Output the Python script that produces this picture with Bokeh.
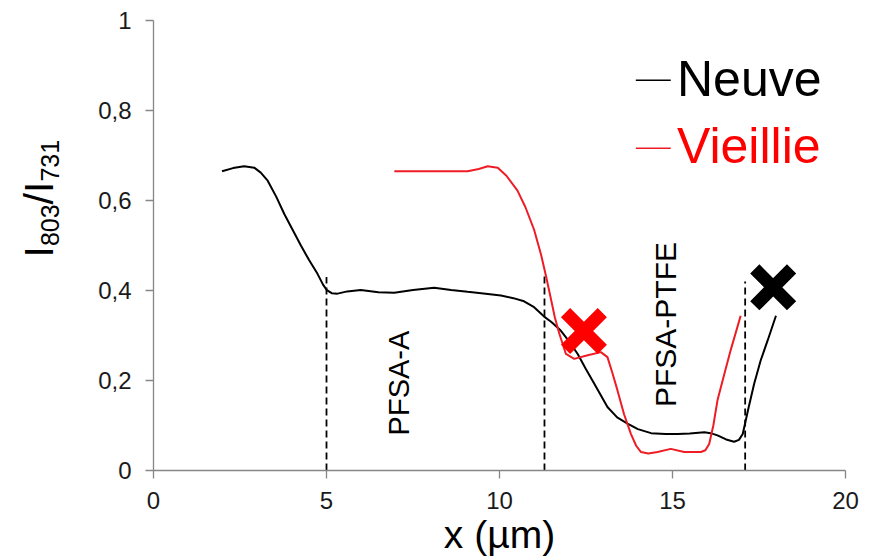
import math
from bokeh.plotting import figure
from bokeh.layouts import row
from bokeh.models import Range1d, Label, CustomJSTickFormatter, FixedTicker
from bokeh.embed import file_html
from bokeh.resources import INLINE

# ---- data ----
neuve_x = [1.98, 2.3, 2.62, 2.91, 3.1, 3.30, 3.55, 3.78, 4.02, 4.26, 4.50, 4.74, 4.9, 5.01,
           5.15, 5.32, 5.6, 5.99, 6.5, 6.96, 7.5, 8.11, 8.6, 9.08, 9.6, 10.04, 10.4, 10.71,
           11.0, 11.29, 11.5, 11.77, 12.0, 12.26, 12.5, 12.74, 13.12, 13.4, 13.70, 14.0,
           14.38, 14.8, 15.15, 15.5, 15.92, 16.1, 16.30, 16.55, 16.78, 16.92, 17.03, 17.2,
           17.36, 17.55, 17.75, 17.99]
neuve_y = [0.665, 0.672, 0.676, 0.673, 0.662, 0.644, 0.608, 0.570, 0.535, 0.500, 0.467, 0.437,
           0.413, 0.401, 0.394, 0.393, 0.398, 0.401, 0.396, 0.395, 0.401, 0.406, 0.401, 0.397,
           0.393, 0.389, 0.383, 0.376, 0.363, 0.342, 0.330, 0.311, 0.288, 0.259, 0.225, 0.193,
           0.141, 0.118, 0.104, 0.092, 0.083, 0.081, 0.081, 0.082, 0.085, 0.083, 0.078, 0.069,
           0.064, 0.068, 0.081, 0.140, 0.193, 0.245, 0.289, 0.344]

vieillie_x = [6.96, 8.0, 9.08, 9.4, 9.66, 9.95, 10.2, 10.52, 10.75, 11.0, 11.2, 11.35, 11.49,
              11.6, 11.73, 11.92, 12.16, 12.55, 12.93, 13.12, 13.25, 13.41, 13.6, 13.80, 13.95,
              14.09, 14.3, 14.57, 14.95, 15.34, 15.82, 15.95, 16.06, 16.18, 16.30, 16.5, 16.68,
              16.97]
vieillie_y = [0.665, 0.665, 0.665, 0.670, 0.676, 0.673, 0.655, 0.622, 0.585, 0.535, 0.480, 0.430,
              0.380, 0.340, 0.304, 0.259, 0.248, 0.256, 0.263, 0.252, 0.220, 0.178, 0.125, 0.081,
              0.055, 0.041, 0.038, 0.041, 0.048, 0.041, 0.041, 0.045, 0.059, 0.100, 0.156, 0.215,
              0.267, 0.344]

boundary_x = [5.0, 11.3, 17.1]
boundary_top = [0.43, 0.433, 0.42]

cross_neuve = (17.91, 0.407)
cross_vieillie = (12.44, 0.31)

x_ticks = [0, 5, 10, 15, 20]
y_ticks = [0, 0.2, 0.4, 0.6, 0.8, 1]

FONT = "Liberation Sans"
AXIS_GRAY = "#868686"
RED = "#ff0000"
H = 558
YLAB_W = 95
TOP, BOTTOM = 20, 88

p = figure(width=866 - YLAB_W, height=H, x_range=Range1d(0, 20), y_range=Range1d(0, 1),
           output_backend="svg", toolbar_location=None,
           min_border_left=153 - YLAB_W, min_border_right=21,
           min_border_top=TOP, min_border_bottom=BOTTOM)
p.grid.visible = False
p.outline_line_color = None

p.xaxis.ticker = FixedTicker(ticks=x_ticks)
p.yaxis.ticker = FixedTicker(ticks=y_ticks)
p.yaxis.formatter = CustomJSTickFormatter(
    code="return (tick == 0 || tick == 1) ? tick.toFixed(0) : tick.toFixed(1).replace('.', ',');")
for ax in (p.xaxis, p.yaxis):
    ax.axis_line_color = AXIS_GRAY
    ax.axis_line_width = 1.3
    ax.major_tick_line_color = AXIS_GRAY
    ax.major_tick_line_width = 1.3
    ax.major_tick_out = 8
    ax.major_tick_in = 0
    ax.minor_tick_out = 0
    ax.minor_tick_in = 0
    ax.major_label_text_font = FONT
    ax.major_label_text_font_size = "24px"
    ax.major_label_text_color = "#1a1a1a"
p.yaxis.major_label_standoff = 14
p.xaxis.major_label_standoff = 13

p.xaxis.axis_label = "x (µm)"
p.xaxis.axis_label_text_font = FONT
p.xaxis.axis_label_text_font_size = "39px"
p.xaxis.axis_label_text_font_style = "normal"
p.xaxis.axis_label_text_color = "black"
p.xaxis.axis_label_standoff = 1

# boundaries
p.segment(x0=boundary_x, y0=[0] * len(boundary_x), x1=boundary_x, y1=boundary_top,
          line_color="black", line_width=1.8, line_dash="7 4")

# curves
p.line(neuve_x, neuve_y, line_color="black", line_width=2)
p.line(vieillie_x, vieillie_y, line_color="#ee1c24", line_width=2)

# crosses
p.scatter([cross_vieillie[0]], [cross_vieillie[1]], marker="x", size=52, line_width=13,
          line_color=RED)
p.scatter([cross_neuve[0]], [cross_neuve[1]], marker="x", size=52, line_width=13,
          line_color="black")

# region labels
p.add_layout(Label(x=7.10, y=0.078, text="PFSA-A", angle=math.pi / 2, text_align="left",
                   text_baseline="alphabetic", text_font=FONT, text_font_size="29px",
                   text_color="black"))
p.add_layout(Label(x=14.79, y=0.141, text="PFSA-PTFE", angle=math.pi / 2, text_align="left",
                   text_baseline="alphabetic", text_font=FONT, text_font_size="30px",
                   text_color="black"))

# legend
p.segment(x0=[13.94, 13.94], y0=[0.867, 0.716], x1=[14.95, 14.95], y1=[0.867, 0.716],
          line_color=["black", "#ee1c24"], line_width=1.5)
p.add_layout(Label(x=15.13, y=0.870, text="Neuve", text_font=FONT, text_font_size="50px",
                   text_color="black", text_baseline="alphabetic"))
p.add_layout(Label(x=15.13, y=0.721, text="Vieillie", text_font=FONT, text_font_size="50px",
                   text_color=RED, text_baseline="alphabetic"))

# y axis label (with subscripts) drawn in its own narrow panel; its frame is aligned
# with the main frame by the row layout, so the y range is set in page pixels (from bottom)
ylab = figure(width=YLAB_W, height=H, x_range=Range1d(0, YLAB_W),
              y_range=Range1d(BOTTOM, H - TOP),
              output_backend="svg", toolbar_location=None,
              min_border_left=0, min_border_right=0,
              min_border_top=TOP, min_border_bottom=BOTTOM,
              x_axis_type=None, y_axis_type=None)
ylab.grid.visible = False
ylab.outline_line_color = None
ylab_parts = [("I", 38.6, 257.0, "41px"), ("803", 49.3, 245.6, "25px"),
              ("/", 38.6, 203.9, "41px"), ("I", 38.6, 192.5, "41px"),
              ("731", 49.3, 181.1, "25px")]
for t, px, py, fs in ylab_parts:
    ylab.add_layout(Label(x=px, y=H - py, text=t, angle=math.pi / 2, text_align="left",
                          text_baseline="alphabetic", text_font=FONT, text_font_size=fs,
                          text_color="black"))

layout = row(ylab, p)
open("out.html", "w").write(file_html(layout, INLINE))
